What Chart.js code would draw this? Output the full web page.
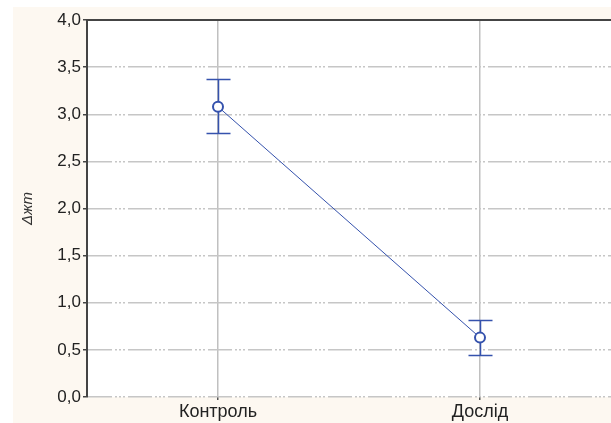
<!DOCTYPE html>
<html>
<head>
<meta charset="utf-8">
<script src="https://cdn.jsdelivr.net/npm/chart.js@4"></script>
<style>
  html, body { margin: 0; padding: 0; background: #ffffff; }
  #wrap { width: 611px; height: 423px; position: relative; }
</style>
</head>
<body>
<div id="wrap"><canvas id="chart"></canvas></div>
<script>
// ===== DATA =====
const groups = ['Контроль', 'Дослід']
const means  = [3.08, 0.63]
const upper  = [3.37, 0.82]
const lower  = [2.80, 0.45]
const yTicks = [0, 0.5, 1, 1.5, 2, 2.5, 3, 3.5, 4]

const BLUE = '#3552ad'
const GRID = '#c6c6c6'
const CREAM = '#fdf8f1'

// backdrop: cream panel, white plot area, dark top frame
const frame = {
  id: 'frame',
  beforeDraw(chart) {
    const { ctx, chartArea: a } = chart
    ctx.save()
    ctx.fillStyle = '#ffffff'
    ctx.fillRect(0, 0, chart.width, chart.height)
    ctx.fillStyle = CREAM
    ctx.fillRect(13, 7, chart.width - 13, chart.height - 7)
    ctx.fillStyle = '#ffffff'
    ctx.fillRect(a.left, a.top, a.right - a.left, a.bottom - a.top)
    ctx.restore()
  },
  afterDraw(chart) {
    const { ctx, chartArea: a } = chart
    ctx.save()
    ctx.strokeStyle = '#444'
    ctx.lineWidth = 2
    ctx.beginPath()
    ctx.moveTo(a.left - 1, a.top)
    ctx.lineTo(a.right, a.top)
    ctx.stroke()
    ctx.restore()
  }
}

// error bars drawn through the scales
const errorBars = {
  id: 'errorBars',
  afterDatasetsDraw(chart) {
    const { ctx, scales: { x, y } } = chart
    ctx.save()
    ctx.strokeStyle = BLUE
    ctx.lineWidth = 1.5
    groups.forEach((g, i) => {
      const px = Math.round(x.getPixelForValue(i)) + 0.5
      const yt = Math.round(y.getPixelForValue(upper[i])) + 0.5
      const yb = Math.round(y.getPixelForValue(lower[i])) + 0.5
      const ym = y.getPixelForValue(means[i])
      ctx.beginPath()
      ctx.moveTo(px, yt); ctx.lineTo(px, ym - 5)
      ctx.moveTo(px, ym + 5); ctx.lineTo(px, yb)
      ctx.moveTo(px - 12, yt); ctx.lineTo(px + 12, yt)
      ctx.moveTo(px - 12, yb); ctx.lineTo(px + 12, yb)
      ctx.stroke()
    })
    ctx.restore()
  }
}

new Chart(document.getElementById('chart'), {
  type: 'line',
  data: {
    labels: groups,
    datasets: [{
      data: means,
      borderColor: BLUE,
      borderWidth: 1,
      pointRadius: 5,
      pointBorderWidth: 2,
      pointBackgroundColor: '#ffffff',
      pointBorderColor: BLUE,
      tension: 0,
    }]
  },
  options: {
    responsive: true, maintainAspectRatio: false, animation: false,
    layout: { autoPadding: false, padding: { top: 20, right: 0, left: 0, bottom: 0 } },
    plugins: { legend: { display: false }, tooltip: { enabled: false } },
    scales: {
      x: {
        offset: true,
        grid: {
          offset: false, lineWidth: 1.5, drawTicks: true, tickLength: 3,
          color: c => c.index < groups.length ? '#c0c0c0' : 'rgba(0,0,0,0)',
          tickColor: c => c.index < groups.length ? '#555' : 'rgba(0,0,0,0)'
        },
        border: { display: false },
        ticks: { color: '#222', font: { family: 'Liberation Sans', size: 18 }, padding: 1, maxRotation: 0 },
        afterFit(s) { s.height = 26 }
      },
      y: {
        min: 0, max: 4,
        afterBuildTicks(s) { s.ticks = yTicks.map(v => ({ value: v })) },
        grid: { color: GRID, lineWidth: 1.5, drawTicks: true, tickLength: 4, tickColor: '#444' },
        border: { color: '#444', width: 2, dash: [24, 3, 2, 2, 2, 2, 2, 3] },
        ticks: {
          color: '#222', font: { family: 'Liberation Sans', size: 17 }, padding: 2,
          callback: v => v.toFixed(1).replace('.', ',')
        },
        title: {
          display: true, text: 'Δжт', color: '#333',
          font: { family: 'Liberation Sans', size: 15, style: 'italic' },
          padding: { top: 19, bottom: 0 }
        },
        afterFit(s) { s.width = 87 }
      }
    }
  },
  plugins: [frame, errorBars]
})
</script>
</body>
</html>
